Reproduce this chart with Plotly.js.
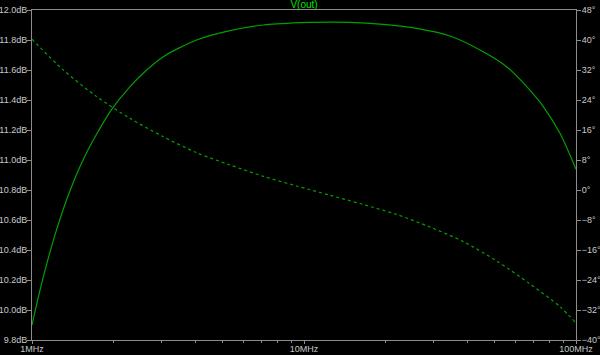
<!DOCTYPE html>
<html>
<head>
<meta charset="utf-8">
<script src="https://cdn.plot.ly/plotly-3.0.1.min.js"></script>
<style>html,body{margin:0;padding:0;background:#000;}#chart{width:600px;height:355px;}</style>
</head>
<body>
<div id="chart"></div>
<script>
// Magnitude trace (solid), frequency in Hz, value in dB
var magFreq = [1.0e6, 1.070e6, 1.133e6, 1.215e6, 1.303e6, 1.399e6, 1.502e6, 1.611e6, 1.763e6, 1.963e6, 2.293e6, 2.641e6, 3.039e6, 4.032e6, 5.345e6, 7.087e6, 9.667e6, 10.52e6, 14.76e6, 19.57e6, 25.96e6, 34.42e6, 45.62e6, 55.6e6, 65.9e6, 75.8e6, 87.3e6, 100e6];
var magDb = [9.90, 10.133, 10.307, 10.501, 10.672, 10.823, 10.956, 11.072, 11.20, 11.337, 11.489, 11.60, 11.689, 11.80, 11.862, 11.90, 11.916, 11.918, 11.918, 11.904, 11.878, 11.827, 11.722, 11.622, 11.489, 11.356, 11.178, 10.938];
// Phase trace (dotted), frequency in Hz, value in degrees
var phaseFreq = [1.0e6, 1.303e6, 1.729e6, 2.293e6, 3.039e6, 4.032e6, 5.345e6, 7.087e6, 9.401e6, 12.47e6, 16.52e6, 21.92e6, 29.05e6, 38.52e6, 51.1e6, 67.75e6, 87.3e6, 100e6];
var phaseDeg = [40.2, 32.0, 24.9, 19.1, 14.2, 9.95, 6.67, 3.65, 1.07, -1.41, -3.87, -6.53, -9.87, -13.76, -18.93, -25.07, -31.1, -35.5];
// Axis ticks
var xTickVals = [1e6, 1e7, 1e8];
var xTickText = ['1MHz', '10MHz', '100MHz'];
var xMinorVals = [2e6,3e6,4e6,5e6,6e6,7e6,8e6,9e6,2e7,3e7,4e7,5e7,6e7,7e7,8e7,9e7];
var title = 'V(out)';

var axisColor = '#8c8c8c';
var labelColor = '#c8c8c8';
var lineGreen = '#00a000';
var tickFont = {family: 'Liberation Sans', size: 9, color: labelColor};

var traces = [
  {x: magFreq, y: magDb, type: 'scatter', mode: 'lines', yaxis: 'y',
   line: {color: lineGreen, width: 1.2, shape: 'spline', smoothing: 0.8}, hoverinfo: 'skip'},
  {x: phaseFreq, y: phaseDeg, type: 'scatter', mode: 'lines', yaxis: 'y2',
   line: {color: lineGreen, width: 1.2, dash: 'dot', shape: 'spline', smoothing: 0.8}, hoverinfo: 'skip'}
];

var layout = {
  width: 600, height: 355,
  paper_bgcolor: '#000', plot_bgcolor: '#000',
  margin: {l: 32, r: 24, t: 10, b: 15, pad: 0},
  showlegend: false,
  title: {text: title, font: {family: 'Liberation Sans', size: 10, color: '#00e000'},
          xref: 'paper', x: 0.5, xanchor: 'center', yref: 'container', y: 0.986, yanchor: 'middle'},
  xaxis: {type: 'log', range: [6, 8], showgrid: false, zeroline: false,
          showline: true, linecolor: axisColor, linewidth: 1, mirror: true,
          tickmode: 'array', tickvals: xTickVals, ticktext: xTickText,
          ticks: 'outside', ticklen: 3, tickcolor: axisColor, tickfont: tickFont,
          ticklabelstandoff: -3,
          minor: {tickmode: 'array', tickvals: xMinorVals, ticks: 'outside', ticklen: 2, tickcolor: axisColor, showgrid: false},
          automargin: false, fixedrange: true},
  yaxis: {range: [9.8, 12.0], dtick: 0.2, tick0: 9.8, tickformat: '.1f', ticksuffix: 'dB',
          showgrid: false, zeroline: false, showline: true, linecolor: axisColor, linewidth: 1,
          ticks: 'outside', ticklen: 4, tickcolor: axisColor, tickfont: tickFont,
          ticklabelstandoff: -2,
          automargin: false, fixedrange: true},
  yaxis2: {range: [-40, 48], dtick: 8, tick0: 0, ticksuffix: '°', overlaying: 'y', side: 'right',
           showgrid: false, zeroline: false, showline: true, linecolor: axisColor, linewidth: 1,
           ticks: 'outside', ticklen: 4, tickcolor: axisColor, tickfont: tickFont,
           ticklabelstandoff: -1,
           automargin: false, fixedrange: true}
};

Plotly.newPlot('chart', traces, layout, {staticPlot: true, displayModeBar: false});
</script>
</body>
</html>
